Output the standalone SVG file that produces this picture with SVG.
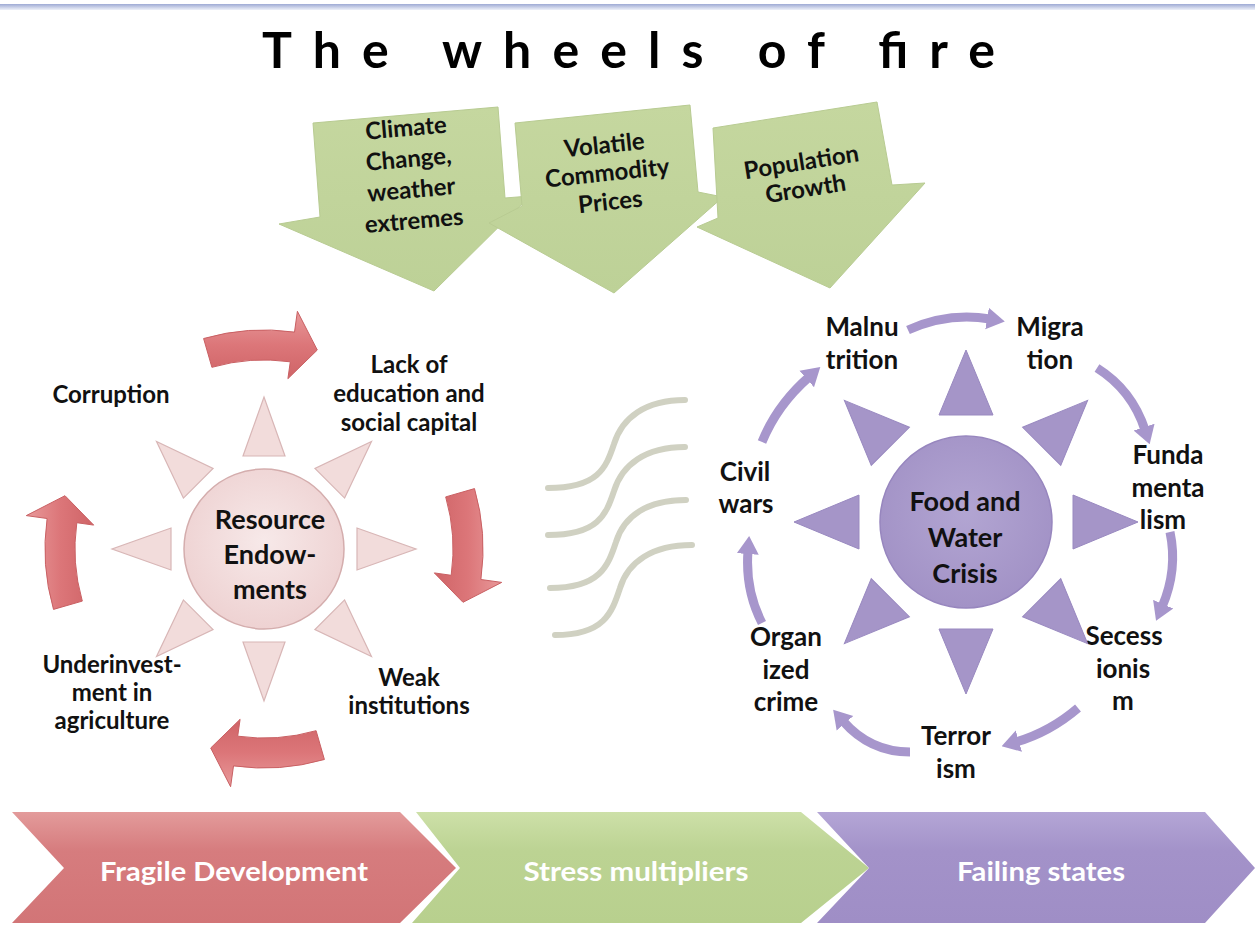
<svg xmlns="http://www.w3.org/2000/svg" width="1255" height="936" viewBox="0 0 1255 936">
<defs>
<style>
.lbl{font-family:Lato,"Open Sans","Liberation Sans",sans-serif;font-weight:bold;fill:#111;text-anchor:middle}
.l24{font-size:24px}
.l26{font-size:26px}
.c27{font-size:27px}
.g24{font-size:24px}
.chev{font-family:Lato,"Open Sans","Liberation Sans",sans-serif;font-weight:bold;font-size:27px;fill:#fff;text-anchor:middle}
.wave{fill:none;stroke:#d0d1c2;stroke-width:6;stroke-linecap:round}
.parc{fill:none;stroke:#a796cc;stroke-width:9}
.gar{fill:url(#gg);stroke:#b8cb92;stroke-width:1}
.rtri{fill:#f2dcdb;stroke:#d8b6b6;stroke-width:1.2}
.ptri{fill:#a595c8;stroke:#9989c0;stroke-width:1}
</style>
<linearGradient id="topline" x1="0" y1="0" x2="0" y2="1">
<stop offset="0" stop-color="#9eaad4"/><stop offset="1" stop-color="#eef1f9"/>
</linearGradient>
<linearGradient id="gg" x1="0" y1="0" x2="0" y2="1">
<stop offset="0" stop-color="#c5d79f"/><stop offset="1" stop-color="#bdd197"/>
</linearGradient>
<linearGradient id="rg" x1="0" y1="0" x2="0" y2="1">
<stop offset="0" stop-color="#e8999a"/><stop offset="0.5" stop-color="#dc7679"/><stop offset="1" stop-color="#cf6467"/>
</linearGradient>
<radialGradient id="lc" cx="0.5" cy="0.45" r="0.55">
<stop offset="0" stop-color="#f7e9e9"/><stop offset="1" stop-color="#eed2d2"/>
</radialGradient>
<radialGradient id="rc" cx="0.5" cy="0.45" r="0.55">
<stop offset="0" stop-color="#b2a5d2"/><stop offset="1" stop-color="#a292c6"/>
</radialGradient>
<linearGradient id="chr" x1="0" y1="0" x2="0" y2="1">
<stop offset="0" stop-color="#e39b9b"/><stop offset="0.35" stop-color="#d67c7e"/><stop offset="1" stop-color="#d27577"/>
</linearGradient>
<linearGradient id="chg" x1="0" y1="0" x2="0" y2="1">
<stop offset="0" stop-color="#cde0a8"/><stop offset="0.35" stop-color="#bcd393"/><stop offset="1" stop-color="#b8d08e"/>
</linearGradient>
<linearGradient id="chp" x1="0" y1="0" x2="0" y2="1">
<stop offset="0" stop-color="#b4a6d6"/><stop offset="0.35" stop-color="#a392c9"/><stop offset="1" stop-color="#9f8ec6"/>
</linearGradient>
<marker id="ph" markerUnits="userSpaceOnUse" markerWidth="18" markerHeight="24" viewBox="0 0 18 24" refX="3" refY="12" orient="auto">
<path d="M0,1 L18,12 L0,23 Z" fill="#a796cc"/>
</marker>
<path id="redArrow" d="M-60.4,-210.5 A219,219 0 0 1 30.5,-216.9 L33.4,-237.7 L53.3,-199.0 L23.9,-170.3 L26.3,-187.2 A189,189 0 0 0 -52.1,-181.7 Z" fill="url(#rg)" stroke="#c96063" stroke-width="1"/>
<path id="ltri" d="M-21,-93 L21,-93 L0,-152 Z" class="rtri"/>
<path id="rtri" d="M-27,-107 L27,-107 L0,-172 Z" class="ptri"/>
</defs>

<rect width="1255" height="936" fill="#fff"/>
<rect x="0" y="4" width="1255" height="6" fill="url(#topline)"/>

<g id="title">
<text x="262" y="68" font-family="Lato,'Open Sans','Liberation Sans',sans-serif" font-weight="bold" font-size="50" fill="#000" textLength="733" lengthAdjust="spacing">The wheels of fire</text>
</g>

<g id="stress-arrows">
<g id="arrow-climate">
<polygon class="gar" points="313,123 498,107 505,198 530,196 434,291 279,224 320,217"/>
<g transform="rotate(-5 410 175)" class="lbl g24">
<text x="410" y="136">Climate</text>
<text x="410" y="167">Change,</text>
<text x="410" y="198">weather</text>
<text x="410" y="229">extremes</text>
</g>
</g>
<g id="arrow-commodity">
<polygon class="gar" points="515,123 690,105 698,192 723,197 614,293 489,223 522,206"/>
<g transform="rotate(-6 608 180)" class="lbl g24">
<text x="608" y="153">Volatile</text>
<text x="608" y="181">Commodity</text>
<text x="608" y="210">Prices</text>
</g>
</g>
<g id="arrow-population">
<polygon class="gar" points="713,128 877,102 892,185 925,183 830,288 697,227 718,218"/>
<g transform="rotate(-9 805 185)" class="lbl g24">
<text x="805" y="170">Population</text>
<text x="805" y="197">Growth</text>
</g>
</g>
</g>

<g id="label-corruption"><text class="lbl l24" x="111" y="403">Corruption</text></g>
<g id="label-lack-education">
<text class="lbl l24" x="409" y="373">Lack of</text>
<text class="lbl l24" x="409" y="402">education and</text>
<text class="lbl l24" x="409" y="431">social capital</text>
</g>
<g id="label-weak-institutions">
<text class="lbl l24" x="409" y="686">Weak</text>
<text class="lbl l24" x="409" y="714">institutions</text>
</g>
<g id="label-underinvestment">
<text class="lbl l24" x="112" y="673">Underinvest-</text>
<text class="lbl l24" x="112" y="701">ment in</text>
<text class="lbl l24" x="112" y="729">agriculture</text>
</g>

<g id="label-malnutrition"><text class="lbl l26" x="862" y="336">Malnu</text><text class="lbl l26" x="862" y="369">trition</text></g>
<g id="label-migration"><text class="lbl l26" x="1050" y="336">Migra</text><text class="lbl l26" x="1050" y="369">tion</text></g>
<g id="label-fundamentalism"><text class="lbl l26" x="1168" y="464">Funda</text><text class="lbl l26" x="1168" y="497">menta</text><text class="lbl l26" x="1163" y="529">lism</text></g>
<g id="label-secessionism"><text class="lbl l26" x="1124" y="645">Secess</text><text class="lbl l26" x="1123" y="678">ionis</text><text class="lbl l26" x="1123" y="710">m</text></g>
<g id="label-terrorism"><text class="lbl l26" x="956" y="745">Terror</text><text class="lbl l26" x="956" y="778">ism</text></g>
<g id="label-organized-crime"><text class="lbl l26" x="786" y="646">Organ</text><text class="lbl l26" x="786" y="679">ized</text><text class="lbl l26" x="786" y="711">crime</text></g>
<g id="label-civil-wars"><text class="lbl l26" x="745" y="481">Civil</text><text class="lbl l26" x="746" y="513">wars</text></g>

<g id="left-wheel">
<g transform="translate(264,549)">
<use href="#ltri"/>
<use href="#ltri" transform="rotate(45)"/>
<use href="#ltri" transform="rotate(90)"/>
<use href="#ltri" transform="rotate(135)"/>
<use href="#ltri" transform="rotate(180)"/>
<use href="#ltri" transform="rotate(225)"/>
<use href="#ltri" transform="rotate(270)"/>
<use href="#ltri" transform="rotate(315)"/>
</g>
<g id="resource-endowments">
<circle cx="264" cy="549" r="80" fill="url(#lc)" stroke="#d4adad" stroke-width="1.5"/>
<text class="lbl c27" x="270" y="529">Resource</text>
<text class="lbl c27" x="270" y="564">Endow-</text>
<text class="lbl c27" x="270" y="599">ments</text>
</g>
</g>

<g id="waves">
<path class="wave" d="M548,488 C598,488 606,468 614,444 C622,418 645,400 685,400"/>
<path class="wave" d="M548,535 C598,535 606,515 614,491 C622,465 645,447 685,447"/>
<path class="wave" d="M550,588 C600,588 608,566 616,542 C624,516 647,500 686,500"/>
<path class="wave" d="M555,635 C605,635 612,612 620,588 C628,562 652,545 692,545"/>
</g>

<g id="right-wheel">
<g transform="translate(966,522)">
<use href="#rtri"/>
<use href="#rtri" transform="rotate(45)"/>
<use href="#rtri" transform="rotate(90)"/>
<use href="#rtri" transform="rotate(135)"/>
<use href="#rtri" transform="rotate(180)"/>
<use href="#rtri" transform="rotate(225)"/>
<use href="#rtri" transform="rotate(270)"/>
<use href="#rtri" transform="rotate(315)"/>
</g>
<g id="food-water-crisis">
<circle cx="966" cy="522" r="86" fill="url(#rc)" stroke="#9786be" stroke-width="1.5"/>
<text class="lbl c27" x="965" y="511">Food and</text>
<text class="lbl c27" x="965" y="547">Water</text>
<text class="lbl c27" x="965" y="583">Crisis</text>
</g>
</g>

<g id="connectors">
<g id="red-cycle">
<use href="#redArrow" transform="translate(264,549)"/>
<use href="#redArrow" transform="translate(264,549) rotate(90)"/>
<use href="#redArrow" transform="translate(264,549) rotate(180)"/>
<use href="#redArrow" transform="translate(264,549) rotate(270)"/>
</g>
<g id="purple-cycle">
<path class="parc" marker-end="url(#ph)" d="M908,330 Q948,312 990,319"/>
<path class="parc" marker-end="url(#ph)" d="M1097,368 Q1132,390 1145,430"/>
<path class="parc" marker-end="url(#ph)" d="M1170,532 Q1178,570 1162,607"/>
<path class="parc" marker-end="url(#ph)" d="M1078,708 Q1050,732 1016,742"/>
<path class="parc" marker-end="url(#ph)" d="M910,752 Q870,752 843,721"/>
<path class="parc" marker-end="url(#ph)" d="M762,623 Q745,590 748,551"/>
<path class="parc" marker-end="url(#ph)" d="M762,442 Q777,405 809,377"/>
</g>
</g>

<g id="stages">
<g id="stage-fragile">
<polygon points="12,812 400,812 456,868 400,923 12,923 64,868" fill="url(#chr)"/>
<text class="chev" x="234" y="881" textLength="268" lengthAdjust="spacingAndGlyphs">Fragile Development</text>
</g>
<g id="stage-stress">
<polygon points="416,812 801,812 869,868 801,923 412,923 460,868" fill="url(#chg)"/>
<text class="chev" x="636" y="881" textLength="225" lengthAdjust="spacingAndGlyphs">Stress multipliers</text>
</g>
<g id="stage-failing">
<polygon points="817,812 1205,812 1255,868 1205,923 817,923 869,868" fill="url(#chp)"/>
<text class="chev" x="1041" y="881" textLength="168" lengthAdjust="spacingAndGlyphs">Failing states</text>
</g>
</g>
</svg>
